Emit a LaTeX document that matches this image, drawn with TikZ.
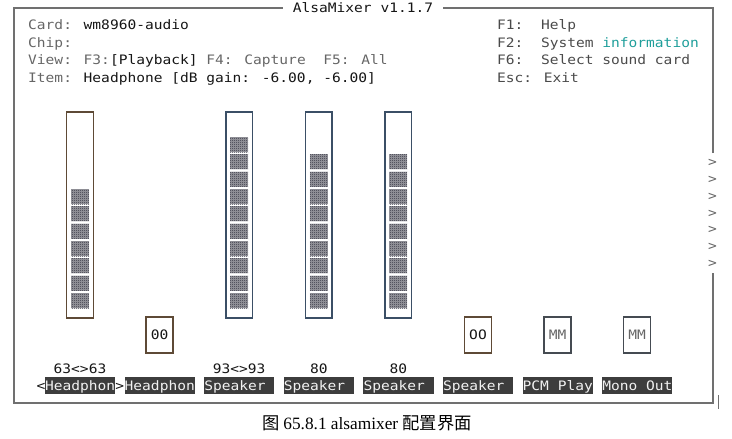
\documentclass[tikz,border=0pt]{standalone}
\usepackage{fontspec}
\usetikzlibrary{patterns}
\newfontfamily\termfam[FakeStretch=1.12]{DejaVu Sans Mono}
\newfontfamily\capfont{Liberation Serif}
\newfontfamily\cjkfam{Noto Sans CJK SC}
\newcommand\termfont{\termfam\fontsize{13}{15.6}\selectfont}
\definecolor{tg}{HTML}{666666}
\definecolor{tk}{HTML}{151515}
\definecolor{tr}{HTML}{4A4A4A}
\definecolor{teal}{HTML}{1E9E9A}
\definecolor{framegray}{HTML}{707070}
\definecolor{labbg}{HTML}{3D3D3D}
\definecolor{labfg}{HTML}{F2F2F2}
\definecolor{hpb}{HTML}{5E4A36}
\definecolor{spb}{HTML}{3B4F66}
\definecolor{mmb}{HTML}{454B52}
\definecolor{blocklight}{HTML}{9C9CA2}
\definecolor{blockdark}{HTML}{2E2E3C}
\pgfdeclarepatternformonly{finechecker}{\pgfqpoint{0pt}{0pt}}{\pgfqpoint{2pt}{2pt}}{\pgfqpoint{2pt}{2pt}}{%
  \pgfpathrectangle{\pgfqpoint{0pt}{0pt}}{\pgfqpoint{1pt}{1pt}}%
  \pgfpathrectangle{\pgfqpoint{1pt}{1pt}}{\pgfqpoint{1pt}{1pt}}%
  \pgfusepath{fill}}
\tikzset{
  txt/.style={inner sep=0pt, font=\termfont, text=tk},
  frameline/.style={draw=framegray, line width=1.4pt},
  barbox/.style={line width=1.3pt},
  blockfill/.style={preaction={fill=blocklight}, pattern=finechecker, pattern color=blockdark},
  labbox/.style={fill=labbg},
  labtxt/.style={txt, text=labfg, anchor=base west},
  arrowmark/.style={txt, text=tg},
}
\begin{document}
\begin{tikzpicture}[x=1pt,y=-1pt]
\useasboundingbox (0,0) rectangle (732,439);
% frame
\coordinate (tl) at (14,8);
\coordinate (trc) at (713,8);
\coordinate (bl) at (14,403);
\coordinate (br) at (713,403);
\coordinate (gapt) at (713,153);
\coordinate (gapb) at (713,273);
\node[txt, inner xsep=10pt, inner ysep=0pt] (title) at (363,8) {AlsaMixer v1.1.7};
\draw[frameline] (title.west |- tl) -- (tl) -- (bl) -- (br) -- (gapb);
\draw[frameline] (gapt) -- (trc) -- (title.east |- trc);
\coordinate (cur1) at (718,395);
\coordinate (cur2) at (718,409);
\draw[draw=framegray, line width=1pt] (cur1) -- (cur2);
% right side markers
\foreach \k in {0,...,6}
  \node[arrowmark] (mark\k) at (712.5,{162.7+16.9*\k}) {>};
% header text, left
\node[txt, anchor=base west] (card) at (28,30) {\textcolor{tg}{Card:} wm8960-audio};
\node[txt, anchor=base west] (chip) at (28,47.3) {\textcolor{tg}{Chip:}};
\node[txt, anchor=base west] (view) at (28,64.7) {\textcolor{tg}{View: F3:}[Playback]~\textcolor{tg}{F4: Capture~~F5: All}};
\node[txt, anchor=base west] (item) at (28,82) {\textcolor{tg}{Item:} Headphone [dB gain: -6.00, -6.00]};
% header text, right
\node[txt, text=tr, anchor=base west] (f1) at (497,30) {F1:~~Help};
\node[txt, text=tr, anchor=base west] (f2) at (497,47.3) {F2:~~System \textcolor{teal}{information}};
\node[txt, text=tr, anchor=base west] (f6) at (497,64.7) {F6:~~Select sound card};
\node[txt, text=tr, anchor=base west] (esc) at (497,82) {Esc: Exit};
% tall bars
\foreach \cx/\n/\col [count=\i] in {80/7/hpb, 239.2/10/spb, 318.8/9/spb, 398.4/9/spb} {
  \draw[barbox, draw=\col] (\cx-13.3,112) rectangle (\cx+13.3,318);
  \foreach \k in {1,...,\n}
    \fill[blockfill] (\cx-9,{308-17.33*(\k-1)}) rectangle (\cx+9,{293-17.33*(\k-1)});
}
% small switch boxes
\foreach \cx/\t/\col/\tc [count=\i] in {159.6/00/hpb/tk, 478/OO/hpb/tk, 557.6/MM/mmb/tg, 637.2/MM/mmb/tg} {
  \draw[barbox, draw=\col] (\cx-13.5,317) rectangle (\cx+13.5,353);
  \node[txt, text=\tc] (sw\i) at (\cx,335) {\t};
}
% values
\node[txt, anchor=base] (v1) at (80,373) {63<>63};
\node[txt, anchor=base] (v3) at (239.2,373) {93<>93};
\node[txt, anchor=base] (v4) at (318.8,373) {80};
\node[txt, anchor=base] (v5) at (398.4,373) {80};
% bottom labels
\foreach \cx/\t [count=\i] in {80/Headphon, 159.6/Headphon, 239.2/Speaker~, 318.8/Speaker~, 398.4/Speaker~, 478/Speaker~, 557.6/PCM~Play, 637.2/Mono~Out} {
  \fill[labbox] (\cx-35.1,377) rectangle (\cx+35.1,394);
  \node[labtxt] (lab\i) at (\cx-35.1,390) {\t};
}
\node[txt, anchor=base west] (lt) at (36.3,390) {<};
\node[txt, anchor=base west] (gt) at (115.1,390) {>};
% caption
\node[inner sep=0pt, anchor=base, text=black] (caption) at (367,429)
  {\fontsize{17.3}{20}\selectfont\cjkfam 图\ \capfont 65.8.1 alsamixer\ \cjkfam 配置界面};
\end{tikzpicture}
\end{document}
